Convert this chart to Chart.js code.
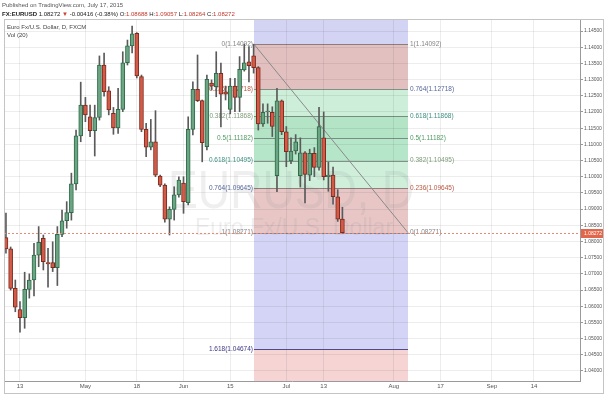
<!DOCTYPE html>
<html>
<head>
<meta charset="utf-8">
<title>EURUSD, D</title>
<script src="https://cdn.jsdelivr.net/npm/chart.js@4.4.1/dist/chart.umd.min.js"></script>
<style>
  html, body { margin: 0; padding: 0; background: #fff; overflow: hidden; }
  canvas { display: block; }
</style>
</head>
<body>
<canvas id="chart" width="606" height="396"></canvas>
<script>
// daily bars, weekdays only (FXCM feed), Apr 8 .. Jul 17 2015
const days = [
  '04-08','04-09','04-10',
  '04-13','04-14','04-15','04-16','04-17',
  '04-20','04-21','04-22','04-23','04-24',
  '04-27','04-28','04-29','04-30','05-01',
  '05-04','05-05','05-06','05-07','05-08',
  '05-11','05-12','05-13','05-14','05-15',
  '05-18','05-19','05-20','05-21','05-22',
  '05-25','05-26','05-27','05-28','05-29',
  '06-01','06-02','06-03','06-04','06-05',
  '06-08','06-09','06-10','06-11','06-12',
  '06-15','06-16','06-17','06-18','06-19',
  '06-22','06-23','06-24','06-25','06-26',
  '06-29','06-30','07-01','07-02','07-03',
  '07-06','07-07','07-08','07-09','07-10',
  '07-13','07-14','07-15','07-16','07-17'
]
const firstIndex = -3 // Apr 13 sits at index 0

const open = [
  1.0812, 1.0777, 1.0655,
  1.0590, 1.0565, 1.0652, 1.0681, 1.0758,
  1.0810, 1.0735, 1.0735, 1.0719, 1.0822,
  1.0864, 1.0889, 1.0978, 1.1126, 1.1221,
  1.1185, 1.1142, 1.1183, 1.1345, 1.1265,
  1.1196, 1.1151, 1.1208, 1.1352, 1.1404,
  1.1443, 1.1309, 1.1146, 1.1091, 1.1108,
  1.1002, 1.0974, 1.0869, 1.0899, 1.0944,
  1.0980, 1.0920, 1.1146, 1.1270, 1.1235,
  1.1093, 1.1289, 1.1278, 1.1319, 1.1262,
  1.1208, 1.1280, 1.1245, 1.1330, 1.1355,
  1.1373, 1.1337, 1.1163, 1.1200, 1.1199,
  1.1003, 1.1234, 1.1139, 1.1049, 1.1080,
  1.1003, 1.1074, 1.1005, 1.1072, 1.1029,
  1.1120, 1.1000, 1.1005, 1.0938, 1.08688
]
const high = [
  1.0888, 1.0783, 1.0681,
  1.0614, 1.0705, 1.0700, 1.0794, 1.0846,
  1.0820, 1.0779, 1.0799, 1.0846, 1.0897,
  1.0923, 1.1011, 1.1144, 1.1292, 1.1245,
  1.1221, 1.1221, 1.1373, 1.1382, 1.1278,
  1.1214, 1.1273, 1.1386, 1.1422, 1.1465,
  1.1445, 1.1314, 1.1165, 1.1177, 1.1204,
  1.1005, 1.0978, 1.0907, 1.0969, 1.1000,
  1.1000, 1.1185, 1.1293, 1.1376, 1.1237,
  1.1314, 1.1299, 1.1386, 1.1351, 1.1280,
  1.1304, 1.1304, 1.1371, 1.1409, 1.1402,
  1.14092, 1.1340, 1.1225, 1.1225, 1.1216,
  1.1273, 1.1237, 1.1155, 1.1120, 1.1130,
  1.1120, 1.1078, 1.1085, 1.1090, 1.1214,
  1.1200, 1.1045, 1.1030, 1.0960, 1.09057
]
const low = [
  1.0764, 1.0650, 1.0583,
  1.0520, 1.0532, 1.0625, 1.0632, 1.0722,
  1.0712, 1.0659, 1.0707, 1.0664, 1.0815,
  1.0841, 1.0866, 1.0959, 1.1108, 1.1170,
  1.1124, 1.1064, 1.1175, 1.1249, 1.1191,
  1.1131, 1.1134, 1.1201, 1.1345, 1.1382,
  1.1305, 1.1139, 1.1062, 1.1083, 1.1000,
  1.0969, 1.0860, 1.0820, 1.0866, 1.0937,
  1.0887, 1.0913, 1.1129, 1.1232, 1.1046,
  1.1083, 1.1268, 1.1247, 1.1154, 1.1237,
  1.1194, 1.1201, 1.1201, 1.1326, 1.1293,
  1.1320, 1.1144, 1.1155, 1.1165, 1.1124,
  1.0954, 1.1130, 1.1031, 1.1040, 1.1070,
  1.0968, 1.0919, 1.0988, 1.1000, 1.1020,
  1.0990, 1.0955, 1.0915, 1.0862, 1.08264
]
const close = [
  1.0777, 1.0655, 1.0597,
  1.0565, 1.0652, 1.0681, 1.0758, 1.0797,
  1.0738, 1.0731, 1.0719, 1.0822, 1.0864,
  1.0889, 1.0978, 1.1126, 1.1221, 1.1191,
  1.1142, 1.1183, 1.1345, 1.1263, 1.1206,
  1.1151, 1.1208, 1.1352, 1.1404, 1.1441,
  1.1311, 1.1146, 1.1091, 1.1108, 1.1005,
  1.0974, 1.0869, 1.0899, 1.0944, 1.0990,
  1.0923, 1.1146, 1.1270, 1.1235, 1.1105,
  1.1301, 1.1280, 1.1319, 1.1255, 1.1255,
  1.1280, 1.1245, 1.1332, 1.1352, 1.1343,
  1.1337, 1.1163, 1.1199, 1.1203, 1.1155,
  1.1234, 1.1139, 1.1077, 1.1079, 1.1108,
  1.1074, 1.1007, 1.1072, 1.1029, 1.1155,
  1.1000, 1.1005, 1.0938, 1.0869, 1.08272
]

// time axis (bar index -> label), future dates included
const xTickPos = [0, 14, 25, 35, 45, 57, 65, 80, 90, 101, 110]
const xTickLabels = ['13', 'May', '18', 'Jun', '15', 'Jul', '13', 'Aug', '17', 'Sep', '14']

const yTicks = [
  1.040, 1.045, 1.050, 1.055, 1.060, 1.065, 1.070, 1.075, 1.080, 1.085, 1.090,
  1.095, 1.100, 1.105, 1.110, 1.115, 1.120, 1.125, 1.130, 1.135, 1.140, 1.145
]

// fib retracement Jun 22 high -> Jul 17 low (plus the mirrored one)
const fibPrices = [1.14092, 1.12718, 1.11868, 1.11182, 1.10495, 1.09645, 1.08271, 1.04674]
const fibLeft = ['0', '0.236', '0.382', '0.5', '0.618', '0.764', '1', '1.618']
const fibRight = ['1', '0.764', '0.618', '0.5', '0.382', '0.236', '0', null]
const fibFrom = 50.1
const fibTo = 83.1

const lastPrice = 1.08272

const ratioColor = {
  '0': '#858585', '1': '#858585', '0.236': '#b8573f', '0.382': '#7d9c78',
  '0.5': '#4f9a62', '0.618': '#3d8f80', '0.764': '#56679b', '1.618': '#3b3782'
}
// top -> bottom: above 0, 0-0.236, ... , below 1.618
const bandColors = ['#d3d3f4', '#e2c0c0', '#cdeed9', '#b3e4c6', '#b6e6c9', '#cfefdb', '#e8c6c6', '#d4d5f6', '#f6d4d4']

const FONT = '"Liberation Sans", "DejaVu Sans", sans-serif'

const fibPlugin = {
  id: 'fib',
  beforeDraw(chart) {
    const { ctx, chartArea: a, scales: { x, y } } = chart
    ctx.save()
    ctx.fillStyle = '#fff'
    ctx.fillRect(0, 0, chart.width, chart.height)
    const x0 = Math.round(x.getPixelForValue(fibFrom))
    const x1 = Math.round(x.getPixelForValue(fibTo))
    const edges = [a.top, ...fibPrices.map(p => Math.round(y.getPixelForValue(p))), a.bottom]
    bandColors.forEach((c, i) => {
      ctx.fillStyle = c
      ctx.fillRect(x0, edges[i], x1 - x0, edges[i + 1] - edges[i])
    })

    // watermark
    ctx.fillStyle = 'rgba(140,140,140,0.14)'
    ctx.textAlign = 'center'
    ctx.textBaseline = 'alphabetic'
    ctx.font = '50px ' + FONT
    const big = 'EURUSD, D'
    const sx = 246 / ctx.measureText(big).width
    ctx.save()
    ctx.translate(291, 208)
    ctx.scale(sx, 1.08)
    ctx.fillText(big, 0, 0)
    ctx.restore()
    ctx.font = '23px ' + FONT
    ctx.fillText('Euro Fx/U.S. Dollar', 294, 235)
    ctx.restore()
  },
  beforeDatasetsDraw(chart) {
    const { ctx, scales: { x, y } } = chart
    const x0 = Math.round(x.getPixelForValue(fibFrom))
    const x1 = Math.round(x.getPixelForValue(fibTo))
    ctx.save()
    ctx.lineWidth = 1
    fibPrices.forEach((p, i) => {
      const py = Math.round(y.getPixelForValue(p)) + 0.5
      ctx.strokeStyle = fibLeft[i] === '1.618' ? '#514a86' : 'rgba(70,70,70,0.55)'
      ctx.beginPath()
      ctx.moveTo(x0, py)
      ctx.lineTo(x1, py)
      ctx.stroke()
    })
    // trend line
    ctx.strokeStyle = '#8a8a8a'
    ctx.beginPath()
    ctx.moveTo(x0, y.getPixelForValue(fibPrices[0]))
    ctx.lineTo(x1, y.getPixelForValue(fibPrices[6]))
    ctx.stroke()

    ctx.font = '6.5px ' + FONT
    ctx.textBaseline = 'middle'
    fibPrices.forEach((p, i) => {
      const py = y.getPixelForValue(p)
      const txt = '(' + p.toFixed(5) + ')'
      ctx.fillStyle = ratioColor[fibLeft[i]]
      ctx.textAlign = 'right'
      ctx.fillText(fibLeft[i] + txt, x0 - 1, py)
      if (fibRight[i] !== null) {
        ctx.fillStyle = ratioColor[fibRight[i]]
        ctx.textAlign = 'left'
        ctx.fillText(fibRight[i] + txt, x1 + 2, py)
      }
    })
    ctx.restore()
  },
  afterDraw(chart) {
    const { ctx, chartArea: a, scales: { y } } = chart
    ctx.save()
    // last price line + tag
    const py = Math.round(y.getPixelForValue(lastPrice)) + 0.5
    ctx.strokeStyle = '#e58a78'
    ctx.setLineDash([2, 2])
    ctx.beginPath()
    ctx.moveTo(a.left, py)
    ctx.lineTo(a.right, py)
    ctx.stroke()
    ctx.setLineDash([])
    ctx.fillStyle = '#e2664a'
    ctx.fillRect(a.right + 1, py - 4.5, 23, 9)
    ctx.fillStyle = '#fff'
    ctx.font = '5px ' + FONT
    ctx.textAlign = 'left'
    ctx.textBaseline = 'middle'
    ctx.fillText(lastPrice.toFixed(5), a.right + 4, py)

    // frame
    ctx.strokeStyle = '#c4c4c4'
    ctx.strokeRect(4.5, 19.5, 599, 374)

    // header
    ctx.textBaseline = 'alphabetic'
    ctx.font = '6px ' + FONT
    ctx.fillStyle = '#555'
    ctx.fillText('Published on TradingView.com, July 17, 2015', 2, 7)
    const parts = [
      ['FX:EURUSD ', '#222', 'bold '], ['1.08272 ', '#222', ''], ['\u25BC', '#d0402a', ''],
      [' -0.00416 (-0.38%) ', '#222', ''], ['O:', '#222', ''], ['1.08688 ', '#c0392b', ''],
      ['H:', '#222', ''], ['1.09057 ', '#c0392b', ''], ['L:', '#222', ''], ['1.08264 ', '#c0392b', ''],
      ['C:', '#222', ''], ['1.08272', '#c0392b', '']
    ]
    let tx = 2
    parts.forEach(([t, c, w]) => {
      ctx.font = w + '6px ' + FONT
      ctx.fillStyle = c
      ctx.fillText(t, tx, 15.5)
      tx += ctx.measureText(t).width
    })
    ctx.font = '6px ' + FONT
    ctx.fillStyle = '#444'
    ctx.fillText('Euro Fx/U.S. Dollar, D, FXCM', 7, 29)
    ctx.fillText('Vol (20)', 7, 37)
    ctx.restore()
  }
}

const up = close.map((c, i) => c >= open[i])

new Chart(document.getElementById('chart'), {
  type: 'bar',
  data: {
    datasets: [
      {
        label: 'body',
        data: days.map((d, i) => ({ x: i + firstIndex, y: [open[i], close[i]] })),
        backgroundColor: up.map(u => (u ? '#6ba583' : '#d35a46')),
        borderColor: up.map(u => (u ? '#2f6b49' : '#7d2a1f')),
        borderWidth: 1,
        borderSkipped: false,
        barThickness: 4,
        minBarLength: 1,
        grouped: false,
        order: 1
      },
      {
        label: 'wick',
        data: days.map((d, i) => ({ x: i + firstIndex, y: [low[i], high[i]] })),
        backgroundColor: '#5a5a5a',
        barThickness: 1,
        grouped: false,
        order: 2
      }
    ]
  },
  options: {
    responsive: false,
    animation: false,
    devicePixelRatio: 1,
    layout: { padding: { left: 4, right: 2, top: 19, bottom: 3 } },
    plugins: { legend: { display: false }, tooltip: { enabled: false } },
    scales: {
      x: {
        type: 'linear',
        offset: false,
        min: -3.42,
        max: 119.85,
        afterBuildTicks: s => { s.ticks = xTickPos.map(v => ({ value: v })) },
        afterFit: s => { s.height = 12 },
        grid: { color: 'rgba(0,0,0,0.07)', drawTicks: false, offset: false },
        border: { color: '#9a9a9a' },
        ticks: {
          padding: 2,
          maxRotation: 0,
          autoSkip: false,
          color: '#555',
          font: { size: 6, family: FONT },
          callback: v => xTickLabels[xTickPos.indexOf(v)]
        }
      },
      y: {
        position: 'right',
        min: 1.03691,
        max: 1.14871,
        afterBuildTicks: s => { s.ticks = yTicks.map(v => ({ value: v })) },
        afterFit: s => { s.width = 24 },
        grid: { color: 'rgba(0,0,0,0.07)', tickLength: 3, tickColor: '#999' },
        border: { color: '#9a9a9a' },
        ticks: {
          padding: 1,
          color: '#555',
          font: { size: 5, family: FONT },
          callback: v => v.toFixed(5)
        }
      }
    }
  },
  plugins: [fibPlugin]
})
</script>
</body>
</html>
